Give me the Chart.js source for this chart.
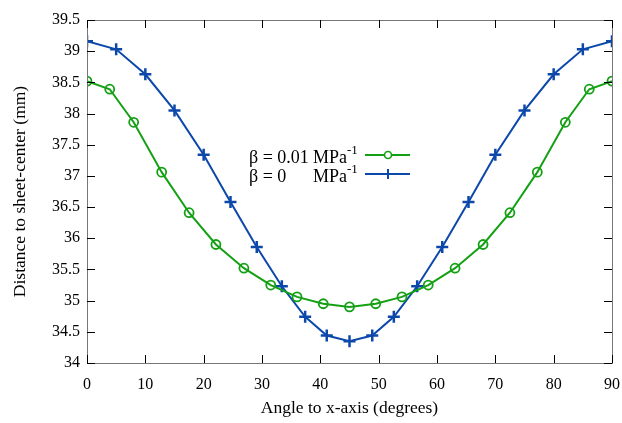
<!DOCTYPE html>
<html lang="en">
<head>
    <meta charset="UTF-8">
    <script src="https://cdn.jsdelivr.net/npm/chart.js"></script>
    <title>Distance to sheet-center</title>
    <style>
        body { margin: 0; background: #fff; }
    </style>
</head>
<body>
    <canvas id="distChart" width="622" height="423"></canvas>

    <script>
        // beta = 0.01 MPa^-1 (green circles)
        const greenAngles = [0, 3.9, 8, 12.8, 17.5, 22.1, 26.9, 31.5, 36, 40.5, 45, 49.5, 54, 58.5, 63.1, 67.9, 72.5, 77.2, 82, 86.1, 90];
        const greenDist = [38.52, 38.39, 37.86, 37.06, 36.41, 35.9, 35.52, 35.25, 35.06, 34.95, 34.9, 34.95, 35.06, 35.25, 35.52, 35.9, 36.41, 37.06, 37.86, 38.39, 38.52];

        // beta = 0 MPa^-1 (blue crosses)
        const blueAngles = [0, 5, 10, 15, 20, 24.6, 29.1, 33.4, 37.4, 41.1, 45, 48.9, 52.6, 56.6, 60.9, 65.4, 70, 75, 80, 85, 90];
        const blueDist = [39.16, 39.03, 38.63, 38.05, 37.34, 36.58, 35.86, 35.23, 34.74, 34.44, 34.35, 34.44, 34.74, 35.23, 35.86, 36.58, 37.34, 38.05, 38.63, 39.03, 39.16];

        const xTicks = [0, 10, 20, 30, 40, 50, 60, 70, 80, 90];
        const yTicks = [34, 34.5, 35, 35.5, 36, 36.5, 37, 37.5, 38, 38.5, 39, 39.5];

        const greenColor = 'rgb(20, 160, 20)';
        const blueColor = 'rgb(12, 72, 170)';
        const fontFam = '"Liberation Serif", "DejaVu Serif", serif';

        const toPoints = (xs, ys) => xs.map((x, i) => ({ x: x, y: ys[i] }));

        // gnuplot style frame: inward ticks on all four sides
        const frameTicks = {
            id: 'frameTicks',
            afterDraw(chart) {
                const { ctx, chartArea: a, scales } = chart;
                ctx.save();
                ctx.strokeStyle = '#777';
                ctx.lineWidth = 1;
                ctx.strokeRect(a.left + 0.5, a.top + 0.5, a.right - a.left, a.bottom - a.top);
                ctx.strokeStyle = '#000';
                ctx.beginPath();
                xTicks.forEach(v => {
                    const px = Math.round(scales.x.getPixelForValue(v)) + 0.5;
                    ctx.moveTo(px, a.bottom); ctx.lineTo(px, a.bottom - 8);
                    ctx.moveTo(px, a.top); ctx.lineTo(px, a.top + 8);
                });
                yTicks.forEach(v => {
                    const py = Math.round(scales.y.getPixelForValue(v)) + 0.5;
                    ctx.moveTo(a.left, py); ctx.lineTo(a.left + 8, py);
                    ctx.moveTo(a.right, py); ctx.lineTo(a.right - 8, py);
                });
                ctx.stroke();
                ctx.restore();
            }
        };

        // legend with superscript units
        const betaLegend = {
            id: 'betaLegend',
            afterDraw(chart) {
                const ctx = chart.ctx;
                const rows = [
                    { a: 'β = 0.01', color: greenColor, style: 'circle', y: 155 },
                    { a: 'β = 0', color: blueColor, style: 'cross', y: 174 }
                ];
                ctx.save();
                rows.forEach(r => {
                    ctx.fillStyle = '#000';
                    ctx.textBaseline = 'middle';
                    ctx.textAlign = 'left';
                    ctx.font = '18px ' + fontFam;
                    ctx.fillText(r.a, 249, r.y + 3);
                    ctx.fillText('MPa', 313, r.y + 3);
                    const w = ctx.measureText('MPa').width;
                    ctx.font = '13px ' + fontFam;
                    ctx.fillText('-1', 313 + w, r.y - 4);
                    ctx.strokeStyle = r.color;
                    ctx.lineWidth = 2;
                    ctx.beginPath();
                    ctx.moveTo(365, r.y); ctx.lineTo(410, r.y);
                    ctx.stroke();
                    ctx.beginPath();
                    if (r.style === 'circle') {
                        ctx.lineWidth = 1.6;
                        ctx.fillStyle = '#fff';
                        ctx.arc(388, r.y, 3.5, 0, Math.PI * 2);
                        ctx.fill();
                        ctx.stroke();
                    } else {
                        ctx.lineWidth = 2;
                        ctx.moveTo(388, r.y - 5); ctx.lineTo(388, r.y + 5);
                        ctx.stroke();
                    }
                });
                ctx.restore();
            }
        };

        new Chart(document.getElementById('distChart'), {
            type: 'scatter',
            data: {
                datasets: [{
                    label: 'β = 0.01 MPa-1',
                    data: toPoints(greenAngles, greenDist),
                    showLine: true,
                    borderColor: greenColor,
                    backgroundColor: 'rgba(0,0,0,0)',
                    borderWidth: 2,
                    pointStyle: 'circle',
                    pointRadius: 4.5,
                    pointBorderWidth: 1.8,
                    tension: 0
                }, {
                    label: 'β = 0 MPa-1',
                    data: toPoints(blueAngles, blueDist),
                    showLine: true,
                    borderColor: blueColor,
                    backgroundColor: blueColor,
                    borderWidth: 2,
                    pointStyle: 'cross',
                    pointRadius: 6,
                    pointBorderWidth: 2.5,
                    tension: 0
                }]
            },
            options: {
                responsive: false,
                animation: false,
                layout: { padding: { top: 20, right: 10, left: 0, bottom: 0 } },
                plugins: {
                    legend: { display: false },
                    tooltip: { enabled: false }
                },
                scales: {
                    x: {
                        type: 'linear',
                        min: 0,
                        max: 90,
                        afterBuildTicks: s => { s.ticks = xTicks.map(v => ({ value: v })); },
                        afterFit: s => { s.height = 60; s.paddingLeft = 0; s.paddingRight = 0; },
                        grid: { display: false, drawTicks: false },
                        border: { display: false },
                        ticks: {
                            color: '#000',
                            padding: 12,
                            maxRotation: 0,
                            callback: v => String(v),
                            font: { family: fontFam, size: 16 }
                        },
                        title: {
                            display: true,
                            text: 'Angle to x-axis (degrees)',
                            color: '#000',
                            padding: { top: 5 },
                            font: { family: fontFam, size: 17.5 }
                        }
                    },
                    y: {
                        min: 34,
                        max: 39.5,
                        afterBuildTicks: s => { s.ticks = yTicks.map(v => ({ value: v })); },
                        afterFit: s => { s.width = 87; s.paddingTop = 0; s.paddingBottom = 0; },
                        grid: { display: false, drawTicks: false },
                        border: { display: false },
                        ticks: {
                            color: '#000',
                            padding: 7,
                            callback: v => String(v),
                            font: { family: fontFam, size: 16 }
                        },
                        title: {
                            display: true,
                            text: 'Distance to sheet-center (mm)',
                            color: '#000',
                            padding: { top: 10, bottom: 0 },
                            font: { family: fontFam, size: 17.5 }
                        }
                    }
                }
            },
            plugins: [frameTicks, betaLegend]
        });
    </script>
</body>
</html>
